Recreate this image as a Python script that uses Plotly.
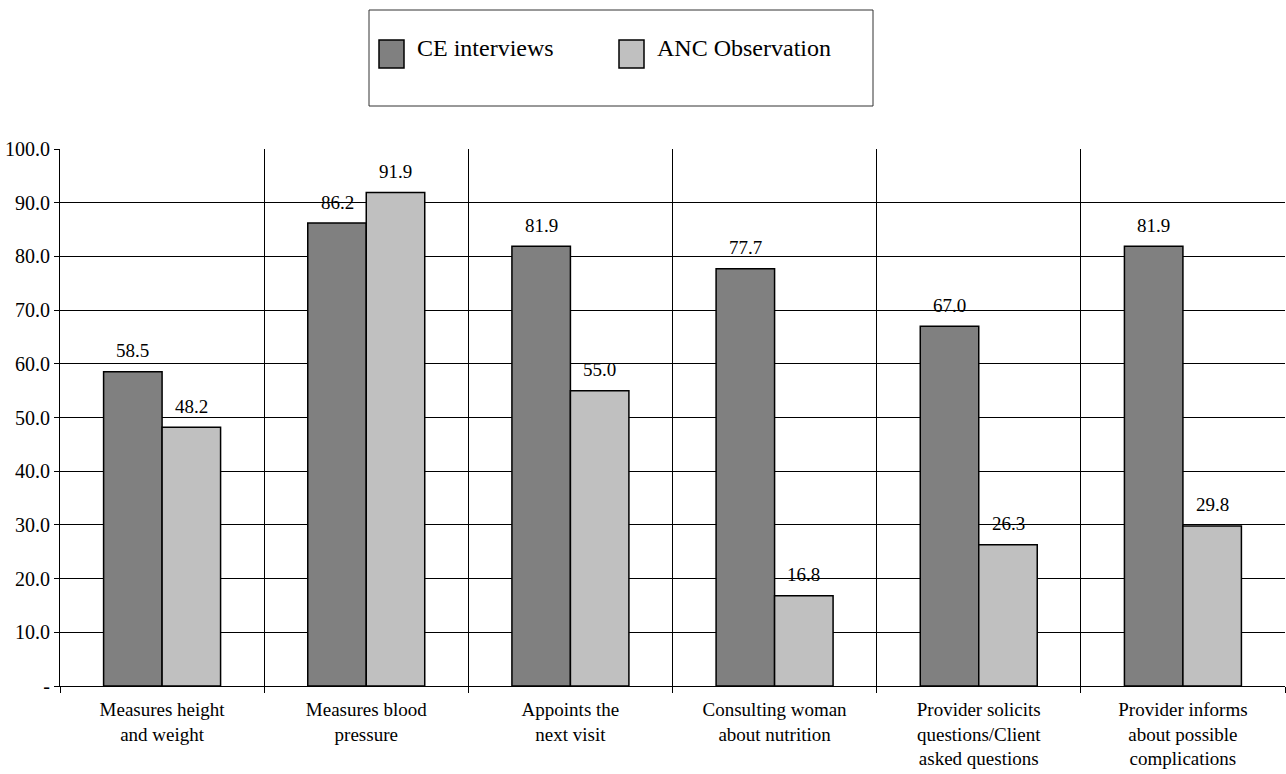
import plotly.graph_objects as go

# ---- data ----
categories = [
    "Measures height<br>and weight",
    "Measures blood<br>pressure",
    "Appoints the<br>next visit",
    "Consulting woman<br>about nutrition",
    "Provider solicits<br>questions/Client<br>asked questions",
    "Provider informs<br>about possible<br>complications",
]
series_names = ["CE interviews", "ANC Observation"]
ce_interviews = [58.5, 86.2, 81.9, 77.7, 67.0, 81.9]
anc_observation = [48.2, 91.9, 55.0, 16.8, 26.3, 29.8]
y_tickvals = [0, 10, 20, 30, 40, 50, 60, 70, 80, 90, 100]
y_ticktext = ["-", "10.0", "20.0", "30.0", "40.0", "50.0", "60.0", "70.0", "80.0", "90.0", "100.0"]

# ---- style / layout ----
W, H = 1286, 774
M_L, M_R, M_T, M_B = 60, 1, 149, 88
FONT = "'Times New Roman', 'Liberation Serif', serif"
colors = ["#808080", "#C0C0C0"]
BARGAP = 0.427


def px_x(p):
    return (p - M_L) / (W - M_L - M_R)


def px_y(p):
    return (H - M_B - p) / (H - M_T - M_B)


fig = go.Figure()
for name, vals, col in zip(series_names, [ce_interviews, anc_observation], colors):
    fig.add_trace(go.Bar(
        x=categories, y=vals, name=name,
        marker=dict(color=col, line=dict(color="black", width=1.5)),
        showlegend=False,
    ))

# value labels above each bar
annotations = []
half = (1 - BARGAP) / 4
for k, vals in enumerate([ce_interviews, anc_observation]):
    off = -half if k == 0 else half
    for i, v in enumerate(vals):
        annotations.append(dict(
            x=i + off, y=v, xref="x", yref="y", text=f"{v:.1f}",
            showarrow=False, yanchor="middle", yshift=21,
            font=dict(family=FONT, size=19, color="black"),
        ))

# legend box drawn as a framed key
shapes = [dict(
    type="rect", xref="paper", yref="paper",
    x0=px_x(369), x1=px_x(873), y0=px_y(106), y1=px_y(10),
    line=dict(color="#333333", width=1), fillcolor="white", layer="above",
)]
key_x = [379, 619]
for name, col, kx in zip(series_names, colors, key_x):
    shapes.append(dict(
        type="rect", xref="paper", yref="paper",
        x0=px_x(kx), x1=px_x(kx + 25), y0=px_y(68), y1=px_y(40),
        line=dict(color="black", width=1.5), fillcolor=col, layer="above",
    ))
    annotations.append(dict(
        x=px_x(kx + 36), y=px_y(48), xref="paper", yref="paper",
        text=name, showarrow=False, xanchor="left", yanchor="middle",
        font=dict(family=FONT, size=24, color="black"),
    ))

fig.update_layout(
    width=W, height=H,
    margin=dict(l=M_L, r=M_R, t=M_T, b=M_B),
    paper_bgcolor="white", plot_bgcolor="white",
    barmode="group", bargap=BARGAP, bargroupgap=0,
    font=dict(family=FONT, size=20, color="black"),
    annotations=annotations, shapes=shapes,
    xaxis=dict(
        type="category", tickson="boundaries", automargin=False,
        showgrid=True, gridcolor="black", gridwidth=1,
        ticks="outside", ticklen=6, tickcolor="black",
        showline=True, linecolor="black", linewidth=1,
        tickfont=dict(family=FONT, size=19, color="black"),
        tickangle=0, ticklabelstandoff=6,
    ),
    yaxis=dict(
        range=[0, 100], tickvals=y_tickvals, ticktext=y_ticktext,
        automargin=False,
        showgrid=True, gridcolor="black", gridwidth=1,
        ticks="outside", ticklen=5, tickcolor="black",
        showline=True, linecolor="black", linewidth=1,
        zeroline=False,
        tickfont=dict(family=FONT, size=20, color="black"),
        ticklabelstandoff=0,
    ),
)

fig.write_html("out.html")
